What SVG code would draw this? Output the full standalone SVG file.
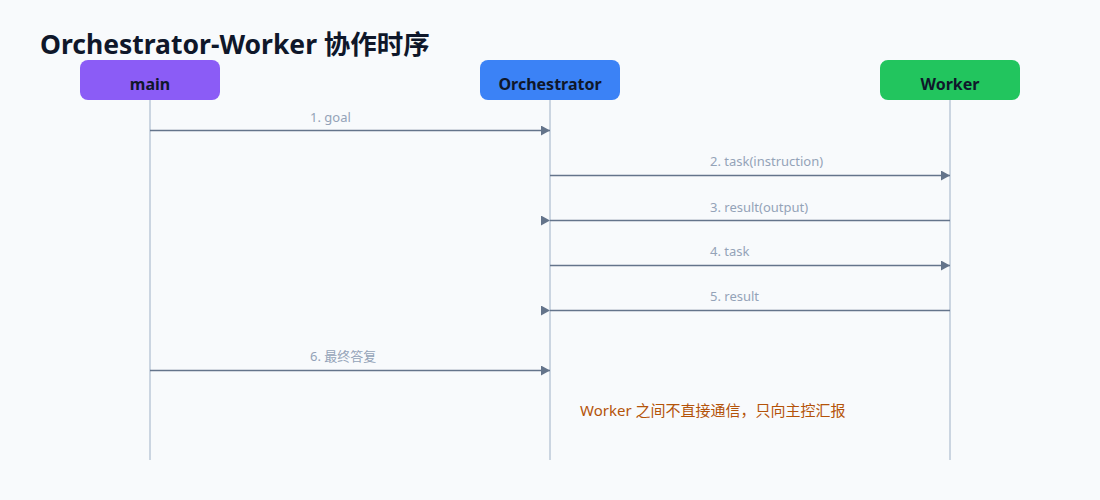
<svg xmlns="http://www.w3.org/2000/svg" width="1100" height="500" viewBox="0 0 1100 500">
<style>
.title{font-family:"Noto Sans","Noto Sans CJK SC",sans-serif;font-size:26.5px;font-weight:700;fill:#0f172a}
.node rect{rx:8;ry:8}
.nlabel{font-family:"Noto Sans","Noto Sans CJK SC",sans-serif;font-size:16px;font-weight:700;fill:#0f172a;text-anchor:middle}
.life{stroke:#cbd5e1;stroke-width:2}
.msg{stroke:#64748b;stroke-width:1.6;fill:none}
.mlabel{font-family:"Noto Sans","Noto Sans CJK SC",sans-serif;font-size:13px;fill:#94a3b8}
.note{font-family:"Noto Sans","Noto Sans CJK SC",sans-serif;font-size:15px;fill:#b45309}
</style>
<defs>
<marker id="ar" markerWidth="10" markerHeight="10" refX="9" refY="5" orient="0" markerUnits="userSpaceOnUse">
<path d="M0,0 L9,5 L0,10 Z" fill="#64748b"/>
</marker>
</defs>
<rect width="1100" height="500" fill="#f8fafc"/>
<text class="title" x="40" y="54">Orchestrator-Worker 协作时序</text>
<g id="lifelines">
<line class="life" x1="150" y1="100" x2="150" y2="460"/>
<line class="life" x1="550" y1="100" x2="550" y2="460"/>
<line class="life" x1="950" y1="100" x2="950" y2="460"/>
</g>
<g id="node-main" class="node">
<rect x="80" y="60" width="140" height="40" fill="#8b5cf6"/>
<text class="nlabel" x="150" y="90">main</text>
</g>
<g id="node-orchestrator" class="node">
<rect x="480" y="60" width="140" height="40" fill="#3b82f6"/>
<text class="nlabel" x="550" y="90">Orchestrator</text>
</g>
<g id="node-worker" class="node">
<rect x="880" y="60" width="140" height="40" fill="#22c55e"/>
<text class="nlabel" x="950" y="90">Worker</text>
</g>
<g id="connectors">
<line class="msg" x1="150" y1="130.5" x2="550" y2="130.5" marker-end="url(#ar)"/>
<text class="mlabel" x="310" y="122">1. goal</text>
<line class="msg" x1="550" y1="175.5" x2="950" y2="175.5" marker-end="url(#ar)"/>
<text class="mlabel" x="710" y="166">2. task(instruction)</text>
<line class="msg" x1="950" y1="220.5" x2="550" y2="220.5" marker-end="url(#ar)"/>
<text class="mlabel" x="710" y="212">3. result(output)</text>
<line class="msg" x1="550" y1="265.5" x2="950" y2="265.5" marker-end="url(#ar)"/>
<text class="mlabel" x="710" y="256">4. task</text>
<line class="msg" x1="950" y1="310.5" x2="550" y2="310.5" marker-end="url(#ar)"/>
<text class="mlabel" x="710" y="301">5. result</text>
<line class="msg" x1="150" y1="370.5" x2="550" y2="370.5" marker-end="url(#ar)"/>
<text class="mlabel" x="310" y="361">6. 最终答复</text>
</g>
<text class="note" x="580" y="416">Worker 之间不直接通信，只向主控汇报</text>
</svg>
